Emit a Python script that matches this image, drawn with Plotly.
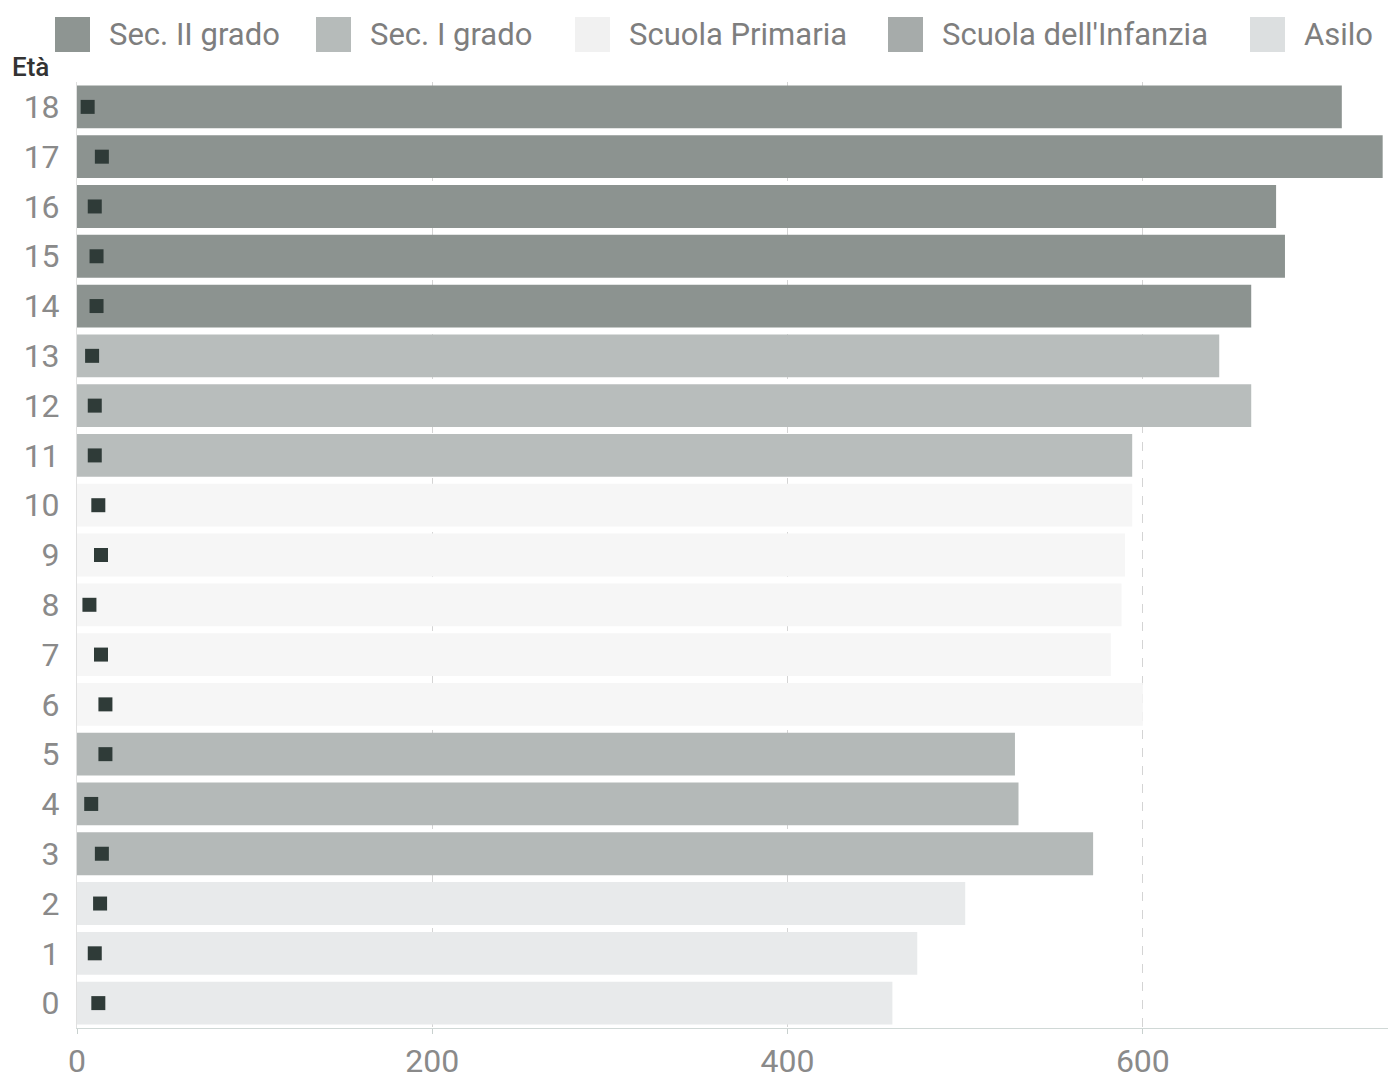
import plotly.graph_objects as go

ages = list(range(0, 19))
# bar values by age (0..18)
values = [459, 473, 500, 572, 530, 528, 600, 582, 588, 590, 594, 594, 661, 643, 661, 680, 675, 735, 712]
# small marker values by age
markers = [12, 10, 13, 14, 8, 16, 16, 13.5, 7, 13.5, 12, 10, 10, 8.5, 11, 11, 10, 14, 6]

group_names = ["Sec. II grado", "Sec. I grado", "Scuola Primaria", "Scuola dell'Infanzia", "Asilo"]
group_ages = [[14, 15, 16, 17, 18], [11, 12, 13], [6, 7, 8, 9, 10], [3, 4, 5], [0, 1, 2]]
bar_colors = ["#8c9390", "#b8bdbc", "#f6f6f6", "#b4b9b8", "#e8eaeb"]
legend_colors = ["#8e9592", "#b6bbba", "#f1f1f1", "#a6abaa", "#dcdfe0"]

FONT = "Roboto, Liberation Sans, sans-serif"
W, H = 1388, 1079
L, R, T, B = 77, 0, 82, 51
PW, PH = W - L - R, H - T - B


def px(x):
    return (x - L) / PW


def py(y):
    return (H - B - y) / PH


fig = go.Figure()
for name, ag, color in zip(group_names, group_ages, bar_colors):
    fig.add_trace(go.Bar(
        x=[values[a] for a in ag], y=ag, orientation="h", name=name,
        marker=dict(color=color, line=dict(width=0)), width=0.86, showlegend=False,
    ))

fig.add_trace(go.Scatter(
    x=markers, y=ages, mode="markers", showlegend=False,
    marker=dict(symbol="square", size=14, color="#2f3b38"),
))

# manual legend (large swatches like the reference)
legend_x = [55, 316, 575, 888, 1250]
shapes = []
annotations = []
for lx, name, col in zip(legend_x, group_names, legend_colors):
    shapes.append(dict(type="rect", xref="paper", yref="paper",
                       x0=px(lx), x1=px(lx + 35), y0=py(52), y1=py(17),
                       fillcolor=col, line=dict(width=0), layer="above"))
    annotations.append(dict(text=name, xref="paper", yref="paper",
                            x=px(lx + 52), y=py(35), xanchor="left", yanchor="middle",
                            showarrow=False, font=dict(size=31, color="#7e7e7e", family=FONT)))

annotations.append(dict(text="Età", xref="paper", yref="paper", x=px(10), y=py(84),
                        xanchor="left", yanchor="bottom", showarrow=False,
                        font=dict(size=26, color="#333333", family="Roboto Medium, Roboto, sans-serif")))

fig.update_layout(
    width=W, height=H,
    margin=dict(l=L, r=R, t=T, b=B, autoexpand=False),
    paper_bgcolor="white", plot_bgcolor="white",
    barmode="overlay",
    showlegend=False,
    font=dict(family=FONT, color="#8a8a8a", size=26),
    xaxis=dict(range=[0, 738], tickvals=[0, 200, 400, 600], showgrid=True,
               gridcolor="#d4d4d4", griddash="dash", gridwidth=1,
               zeroline=False, showline=True, linecolor="#d0d8d6",
               ticks="outside", ticklen=5, tickcolor="#c8d0ce", automargin=False,
               ticklabelstandoff=0,
               tickfont=dict(size=32, color="#8a8a8a")),
    yaxis=dict(range=[-0.5, 18.5], tickvals=ages, ticktext=[str(a) for a in ages],
               showgrid=False, zeroline=False, showline=True, linecolor="#e0e0e0",
               automargin=False,
               tickfont=dict(size=32, color="#8a8a8a"), ticks="", ticklabelstandoff=10),
    shapes=shapes,
    annotations=annotations,
)

fig.write_html("out.html")
